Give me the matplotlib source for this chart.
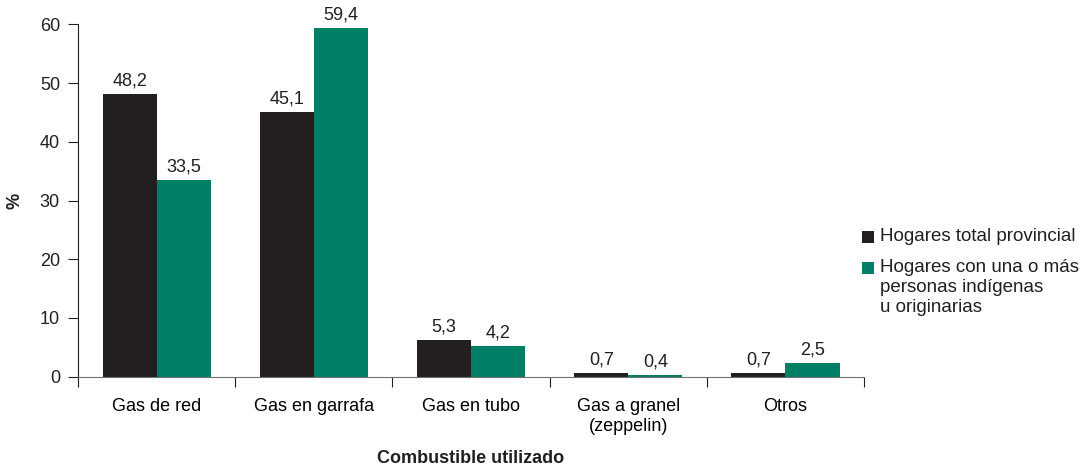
import numpy as np
import matplotlib.pyplot as plt
from matplotlib.patches import Rectangle

plt.rcParams["font.family"] = ["Liberation Sans", "DejaVu Sans"]
plt.rcParams["font.size"] = 13

categorias = ["Gas de red", "Gas en garrafa", "Gas en tubo", "Gas a granel\n(zeppelin)", "Otros"]
total_provincial = [48.2, 45.1, 6.25, 0.68, 0.68]
con_indigenas = [33.5, 59.4, 5.28, 0.29, 2.38]
etiquetas_total = ["48,2", "45,1", "5,3", "0,7", "0,7"]
etiquetas_indigenas = ["33,5", "59,4", "4,2", "0,4", "2,5"]
series_nombres = ["Hogares total provincial",
                  "Hogares con una o más\npersonas indígenas\nu originarias"]

c_negro = "#231f20"
c_verde = "#007f66"
txt = "#231f20"

fig = plt.figure(figsize=(10.85, 4.70), dpi=100)
ax = fig.add_axes((0.0719, 0.1985, 0.7245, 0.7497))

x = np.arange(len(categorias)) + 0.5
w = 0.344
b1 = ax.bar(x - w / 2, total_provincial, w, color=c_negro)
b2 = ax.bar(x + w / 2, con_indigenas, w, color=c_verde)

for bars, labs in [(b1, etiquetas_total), (b2, etiquetas_indigenas)]:
    for r, t in zip(bars, labs):
        ax.annotate(t, (r.get_x() + r.get_width() / 2, r.get_height()),
                    xytext=(0, 3), textcoords="offset points",
                    ha="center", va="bottom", color=txt)

ax.set_xlim(0, len(categorias))
ax.set_ylim(0, 60)
ax.set_yticks(np.arange(0, 61, 10))
ax.set_xticks(np.arange(0, len(categorias) + 1), minor=False)
ax.set_xticklabels([])
ax.set_xticks(x, minor=True)
ax.set_xticklabels(categorias, minor=True, linespacing=1.25)
ax.tick_params(axis="x", which="minor", length=0, pad=15)
ax.tick_params(axis="x", which="major", length=7, direction="out", color=txt)
ax.tick_params(axis="y", length=7, color=txt, pad=6)
ax.tick_params(colors=txt, labelcolor=txt)

for s in ["top", "right"]:
    ax.spines[s].set_visible(False)
ax.spines["left"].set_color(txt)
ax.spines["bottom"].set_color("#707070")

ax.set_ylabel("%", fontweight="bold", labelpad=12, color=txt)
ax.set_xlabel("Combustible utilizado", fontweight="bold", labelpad=11, color=txt)

# leyenda manual: cuadro alineado con la primera línea del texto
for i, (nombre, col) in enumerate(zip(series_nombres, [c_negro, c_verde])):
    yc = [237, 268][i]
    fig.add_artist(Rectangle((862 / 1085, 1 - (yc + 6) / 470), 12 / 1085, 12 / 470,
                             transform=fig.transFigure, color=col, lw=0))
    fig.text(880 / 1085, 1 - (yc - 9) / 470, nombre, ha="left", va="top",
             color=txt, fontsize=13.5, linespacing=1.25)

fig.savefig("out.png", dpi=100)
